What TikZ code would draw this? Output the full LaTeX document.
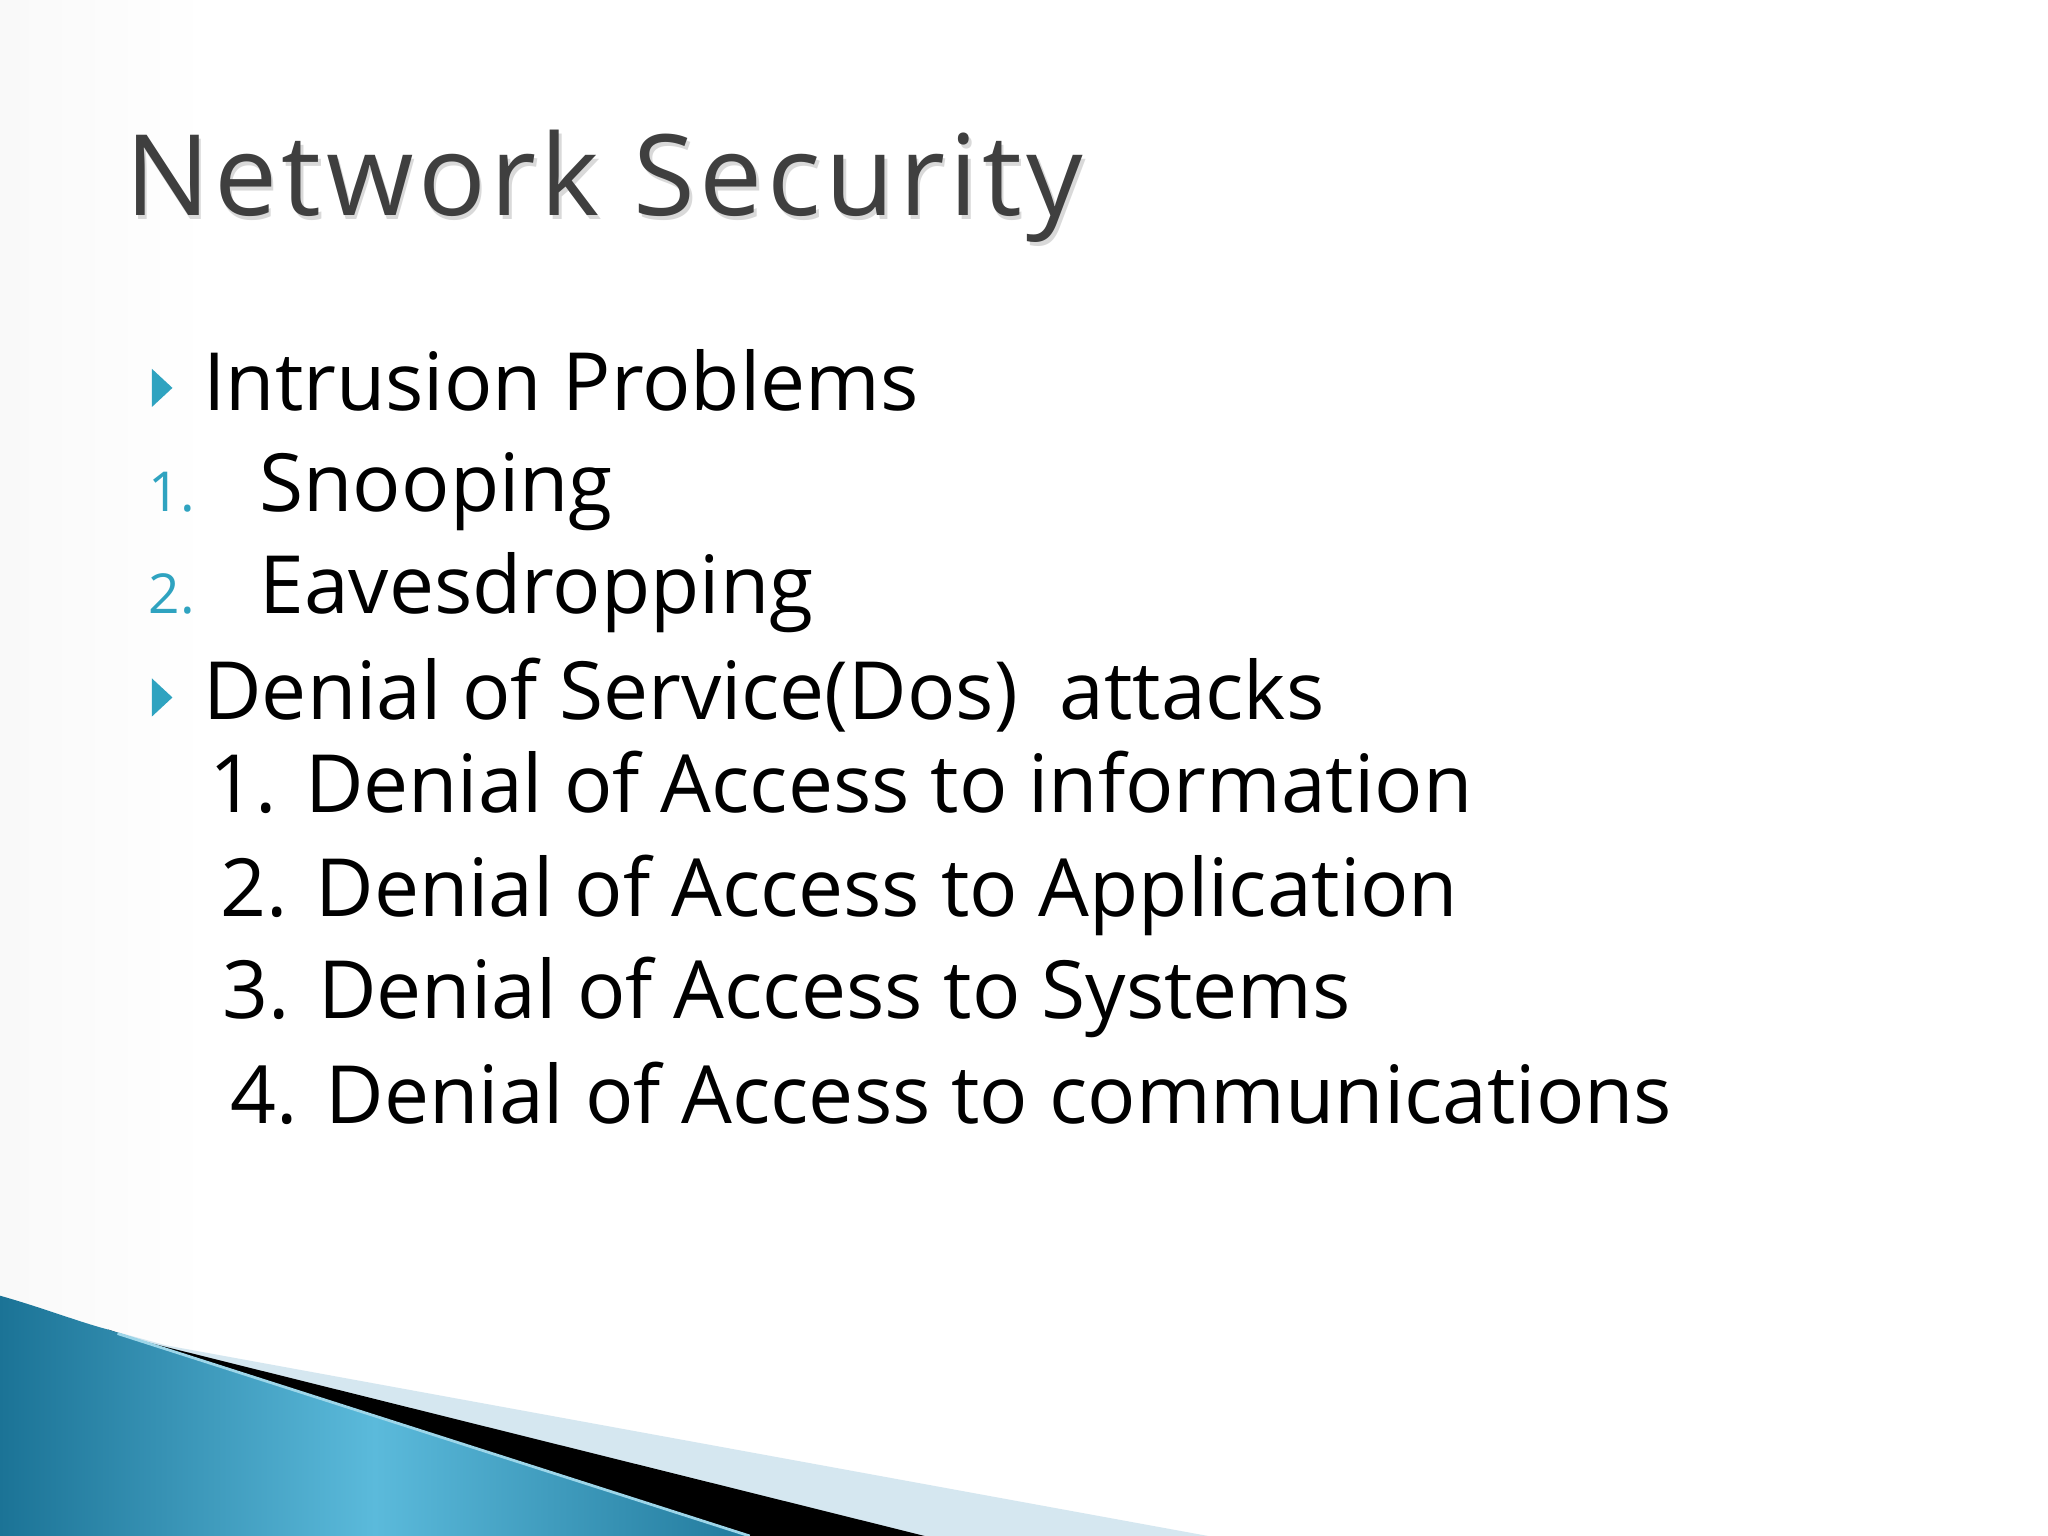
\documentclass[tikz,border=0pt]{standalone}
\usepackage{fontspec}
\setmainfont{Open Sans}
\definecolor{tealb}{HTML}{2FA3C0}
\definecolor{titleg}{HTML}{3F3F3F}
\definecolor{blued}{HTML}{1B7396}
\definecolor{bluel}{HTML}{5BBADB}
\definecolor{paleb}{HTML}{D5E7F0}
\begin{document}
\begin{tikzpicture}[x=1cm,y=-1cm,
    item/.style={anchor=base west,inner sep=0pt,font=\fontsize{17.5}{20}\selectfont},
    num/.style={anchor=base west,inner sep=0pt,text=tealb,font=\fontsize{12}{14}\selectfont},
    head/.style={anchor=base west,inner sep=0pt,font=\fontsize{24.5}{28}\selectfont\addfontfeature{LetterSpace=4}},
    tri/.style={fill=tealb,draw=tealb}]
    \useasboundingbox (0,0) rectangle (15.68,11.76);
    \fill[white] (0,0) rectangle (15.68,11.76);
    \shade[left color=gray!5,right color=white] (0,0) rectangle (1.6,11.76);
    \node[head,text=gray!30] at (0.97,1.68) {Network Security};
    \node(t)[head,text=titleg] at (0.95,1.65) {Network Security};
    \filldraw[tri] (1.17,2.84)--(1.17,3.10)--(1.31,2.97)--cycle;
    \node(a)[item] at (1.55,3.14) {Intrusion Problems};
    \node(n1)[num] at (1.13,3.92) {1.};
    \node(b)[item] at (1.98,3.92) {Snooping};
    \node(n2)[num] at (1.13,4.70) {2.};
    \node(c)[item] at (1.98,4.70) {Eavesdropping};
    \filldraw[tri] (1.17,5.21)--(1.17,5.47)--(1.31,5.34)--cycle;
    \node(d)[item] at (1.55,5.51) {Denial of Service(Dos)~~attacks};
    \node(e)[item] at (1.60,6.22) {1. Denial of Access to information};
    \node(f)[item] at (1.68,7.02) {2. Denial of Access to Application};
    \node(g)[item] at (1.70,7.80) {3. Denial of Access to Systems};
    \node(h)[item] at (1.76,8.60) {4. Denial of Access to communications};
    \fill[paleb] (0.83,10.18)--(1.27,10.30)--(9.25,11.76)--(0,11.76)--cycle;
    \fill[black] (0.83,10.18)--(1.10,10.27)--(7.08,11.76)--(0,11.76)--cycle;
    \shade[left color=blued,right color=blued!90!bluel,middle color=bluel] (0,9.92) .. controls (0.35,10.02) and (0.6,10.12) .. (0.83,10.18)--(5.74,11.76)--(0,11.76)--cycle;
    \draw[bluel!60!white,line width=0.6pt] (0.9,10.21)--(5.74,11.76);
\end{tikzpicture}
\end{document}
